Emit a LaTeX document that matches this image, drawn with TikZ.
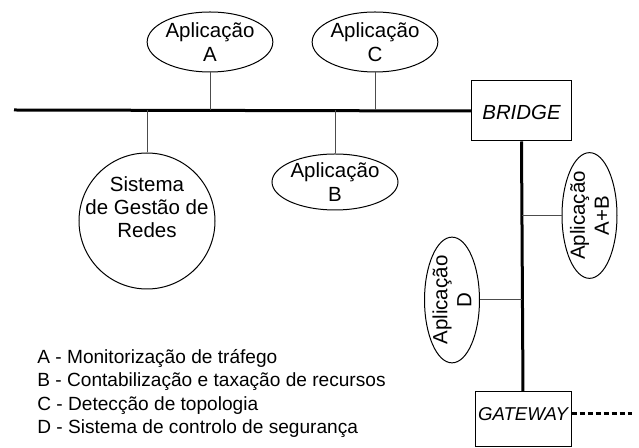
\documentclass[tikz,border=0pt]{standalone}
\usepackage{fontspec}
\setmainfont{Liberation Sans}
\usepackage{tikz}
\usetikzlibrary{shapes.geometric}
\usepackage{xcolor}

\begin{document}
\begin{tikzpicture}[x=0.5pt, y=-0.5pt,
    bus/.style={line width=1.5pt, black},
    link/.style={line width=0.5pt, black!70},
    app/.style={ellipse, draw, line width=0.5pt, inner sep=0pt, align=center,
        minimum width=62pt, minimum height=30pt,
        font=\fontsize{10.25}{12}\selectfont},
    vapp/.style={app, rotate=90, minimum width=60pt, minimum height=26.5pt},
    box/.style={rectangle, draw, line width=0.5pt, inner sep=0pt,
        minimum width=50pt, minimum height=30pt}]

    % Frame
    \useasboundingbox (0, 0) rectangle (639, 448);

    % Coordinates for the bus ends
    \coordinate (busL) at (14, 110);   % left end of the bus
    \coordinate (wan) at (632, 414);   % end of the dashed link

    % Bridge and gateway
    \node[box, text height=9pt, font=\fontsize{10.2}{12}\selectfont\itshape] (bridge) at (521.5, 111) {BRIDGE};
    \node[box, minimum width=48pt, minimum height=27.5pt, text depth=5pt, font=\fontsize{9.3}{11}\selectfont\itshape] (gateway) at (523, 419.5) {GATEWAY};

    % Applications
    \node[app] (appA) at (210, 42) {Aplicação\\A};
    \node[app] (appC) at (375, 42) {Aplicação\\C};
    \node[app, minimum width=63pt, minimum height=28pt] (appB) at (335, 182) {Aplicação\\B};
    \node[vapp, minimum width=62.5pt, minimum height=27.5pt] (appAB) at (589.5, 215.5) {Aplicação\\A+B};
    \node[vapp, minimum width=56pt, minimum height=25.5pt] (appD) at (452, 300) {Aplicação\\D};
    \node[circle, draw, line width=0.5pt, inner sep=0pt, minimum size=68pt,
        label={[name=sgrtext, align=center, yshift=7pt, font=\fontsize{10.25}{11.5}\selectfont]center:Sistema\\de Gestão de\\Redes}] (sgr) at (147, 221) {};

    % Draw the bus lines
    \draw[bus] (busL) -- (bridge.west);
    \draw[bus] (bridge.south) -- (gateway.north);
    \draw[bus, dashed, dash pattern=on 2.5pt off 1.5pt] (gateway.east |- wan) -- (wan);

    % Draw the links to the bus
    \draw[link] (appA) -- (appA |- busL);
    \draw[link] (appC) -- (appC |- busL);
    \draw[link] (appB) -- (appB |- busL);
    \draw[link] (sgr) -- (sgr |- busL);
    \draw[link] (appAB) -- (appAB -| bridge.south);
    \draw[link] (appD) -- (appD -| bridge.south);

    % Legend
    \node[anchor=north west, inner sep=0pt, align=left,
        font=\fontsize{9.55}{11.65}\selectfont] (legend) at (37, 349)
        {A - Monitorização de tráfego\\
         B - Contabilização e taxação de recursos\\
         C - Detecção de topologia\\
         D - Sistema de controlo de segurança};

\end{tikzpicture}
\end{document}
